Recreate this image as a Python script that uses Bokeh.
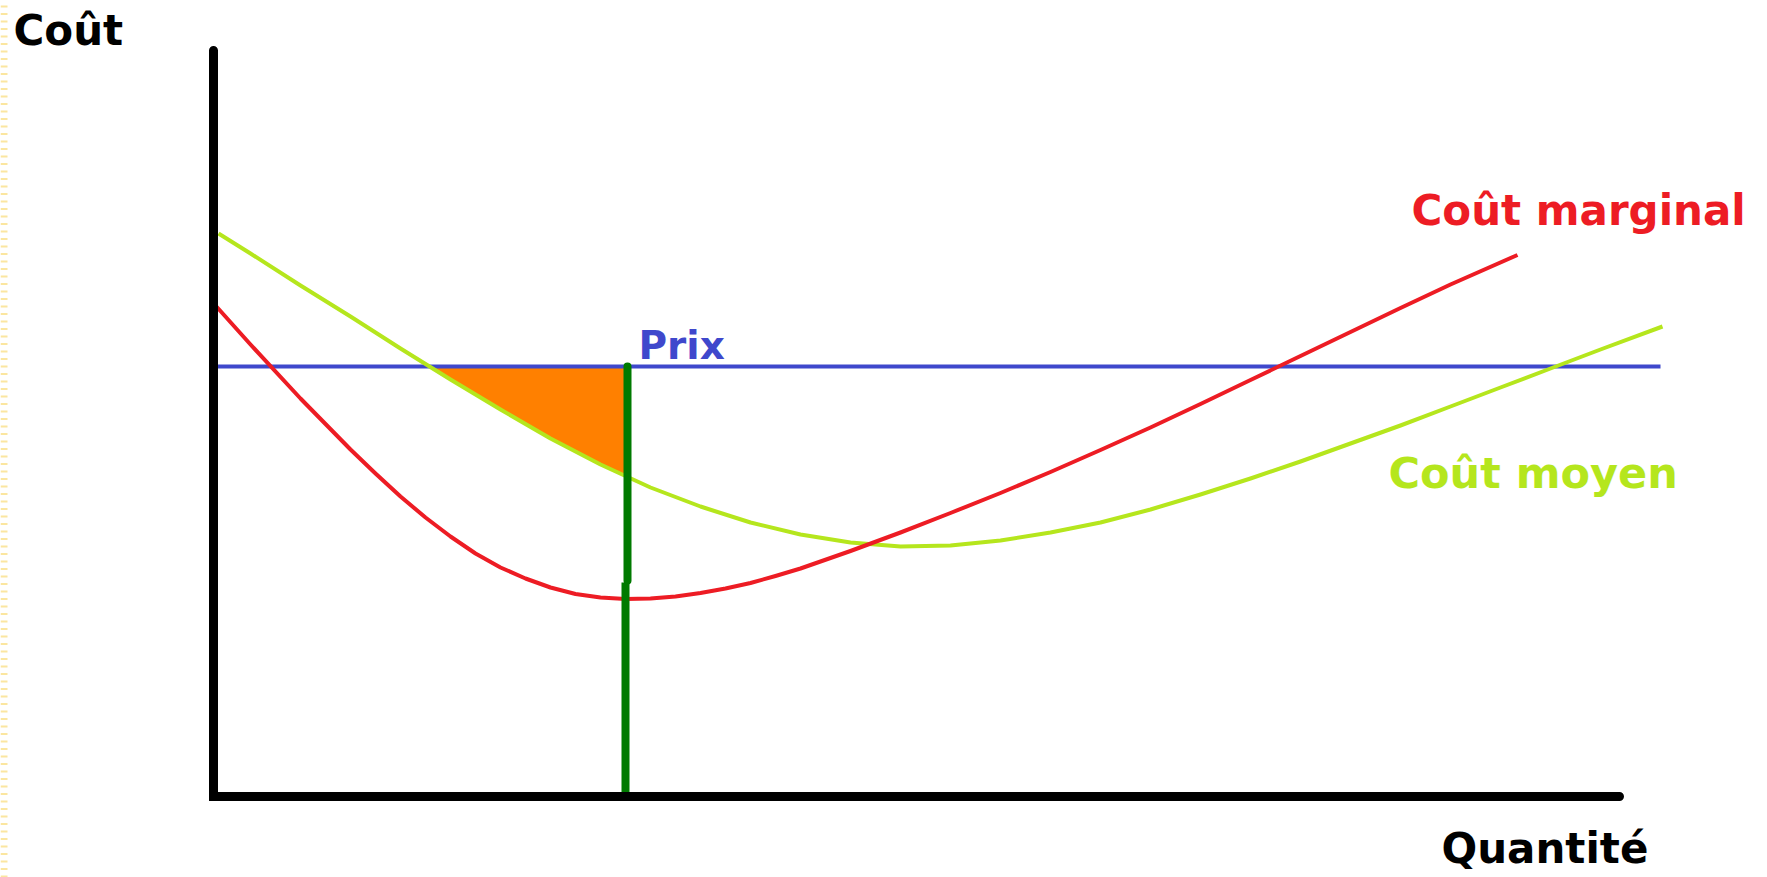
import numpy as np
from bokeh.plotting import figure
from bokeh.models import Range1d, Label
from bokeh.embed import file_html
from bokeh.resources import INLINE

# ---- data (quantity / cost units) ----
mc_q = [0.03, 0.38, 0.88, 1.13, 1.38, 1.63, 1.88, 2.13, 2.38, 2.63, 2.88, 3.13, 3.38, 3.63,
        3.88, 4.13, 4.38, 4.63, 4.88, 5.13, 5.38, 5.63, 5.88,
        6.38, 6.88, 7.38, 7.88, 8.38, 8.88, 9.38, 9.88, 10.38, 10.88, 11.38, 11.88, 12.38, 13.05]
mc_cost = [4.91, 4.52, 3.98, 3.725, 3.47, 3.23, 3.00, 2.79, 2.60, 2.43, 2.29, 2.18, 2.09, 2.025,
           1.99, 1.975, 1.98, 2.00, 2.035, 2.08, 2.135, 2.205, 2.28,
           2.455, 2.64, 2.835, 3.035, 3.245, 3.465, 3.69, 3.925, 4.165, 4.405, 4.645, 4.885, 5.12, 5.415]

ac_q = [0.06, 0.38, 0.88, 1.38, 1.88, 2.38, 2.88, 3.38, 3.88, 4.38, 4.88, 5.38, 5.88, 6.38,
        6.88, 7.38, 7.88, 8.38, 8.88, 9.38, 9.88, 10.38, 10.88, 11.38, 11.88, 12.38, 12.88,
        13.38, 13.88, 14.50]
ac_cost = [5.63, 5.43, 5.11, 4.80, 4.48, 4.17, 3.87, 3.58, 3.32, 3.09, 2.90, 2.74, 2.62, 2.54,
           2.50, 2.51, 2.56, 2.64, 2.74, 2.87, 3.02, 3.18, 3.35, 3.53, 3.71, 3.90, 4.09,
           4.28, 4.47, 4.70]

price = 4.30
price_q_range = [0.01, 14.48]
quantity_chosen = 4.14
q_axis_max = 14.07
cost_axis_max = 7.46

labels = {
    "cost": "Coût",
    "qty": "Quantité",
    "mc": "Coût marginal",
    "ac": "Coût moyen",
    "price": "Prix",
}

RED = "#ed1c24"
LIME = "#b5e61d"
BLUE = "#3f48cc"
ORANGE = "#ff8000"
GREEN = "#007a00"

p = figure(width=1767, height=877, output_backend="svg", toolbar_location=None,
           x_range=Range1d(-2.12, 15.55), y_range=Range1d(-0.81, 7.96),
           x_axis_location=None, y_axis_location=None, min_border=0)
p.grid.visible = False
p.outline_line_color = None
p.background_fill_color = "white"

# faint dashed stripe on the left edge (scan artefact of the original)
stripe_y = 7.96 - 0.06 - np.arange(0, 8.8, 0.075)
p.segment(x0=-2.12, x1=-2.05, y0=stripe_y, y1=stripe_y, line_color="#fbe6a0", line_width=2)

# orange surplus area between price and average cost up to chosen quantity
acq = np.array(ac_q)
acc = np.array(ac_cost)
q_start = float(np.interp(-price, -acc[:14], acq[:14]))
ac_at_q = float(np.interp(quantity_chosen, acq, acc))
mask = (acq > q_start) & (acq < quantity_chosen)
poly_x = [q_start, quantity_chosen, quantity_chosen] + list(acq[mask][::-1])
poly_y = [price, price, ac_at_q] + list(acc[mask][::-1])
p.patch(poly_x, poly_y, fill_color=ORANGE, line_color=None)

# price line
p.line(price_q_range, [price, price], line_color=BLUE, line_width=4)

# cost curves
p.line(ac_q, ac_cost, line_color=LIME, line_width=4, line_join="round")
p.line(mc_q, mc_cost, line_color=RED, line_width=4, line_join="round")

# chosen quantity (drawn in two strokes)
p.line([quantity_chosen + 0.01, quantity_chosen + 0.01], [price, 2.16],
       line_color=GREEN, line_width=8, line_cap="round")
p.line([quantity_chosen - 0.01, quantity_chosen - 0.01], [2.14, -0.04],
       line_color=GREEN, line_width=8)

# axes
p.line([0.01, 0.01, q_axis_max], [cost_axis_max, 0, 0], line_color="black",
       line_width=9, line_cap="round", line_join="miter")

def lab(x, y, t, color, size):
    p.add_layout(Label(x=x, y=y, text=t, text_color=color, text_font="DejaVu Sans",
                       text_font_style="bold", text_font_size=size,
                       text_baseline="alphabetic", text_align="left"))

lab(-1.99, 7.66, labels["cost"], "black", "42px")
lab(12.29, -0.52, labels["qty"], "black", "42px")
lab(11.99, 5.86, labels["mc"], RED, "42px")
lab(11.76, 3.24, labels["ac"], LIME, "43px")
lab(4.26, 4.51, labels["price"], BLUE, "39px")

open("out.html", "w").write(file_html(p, INLINE))
